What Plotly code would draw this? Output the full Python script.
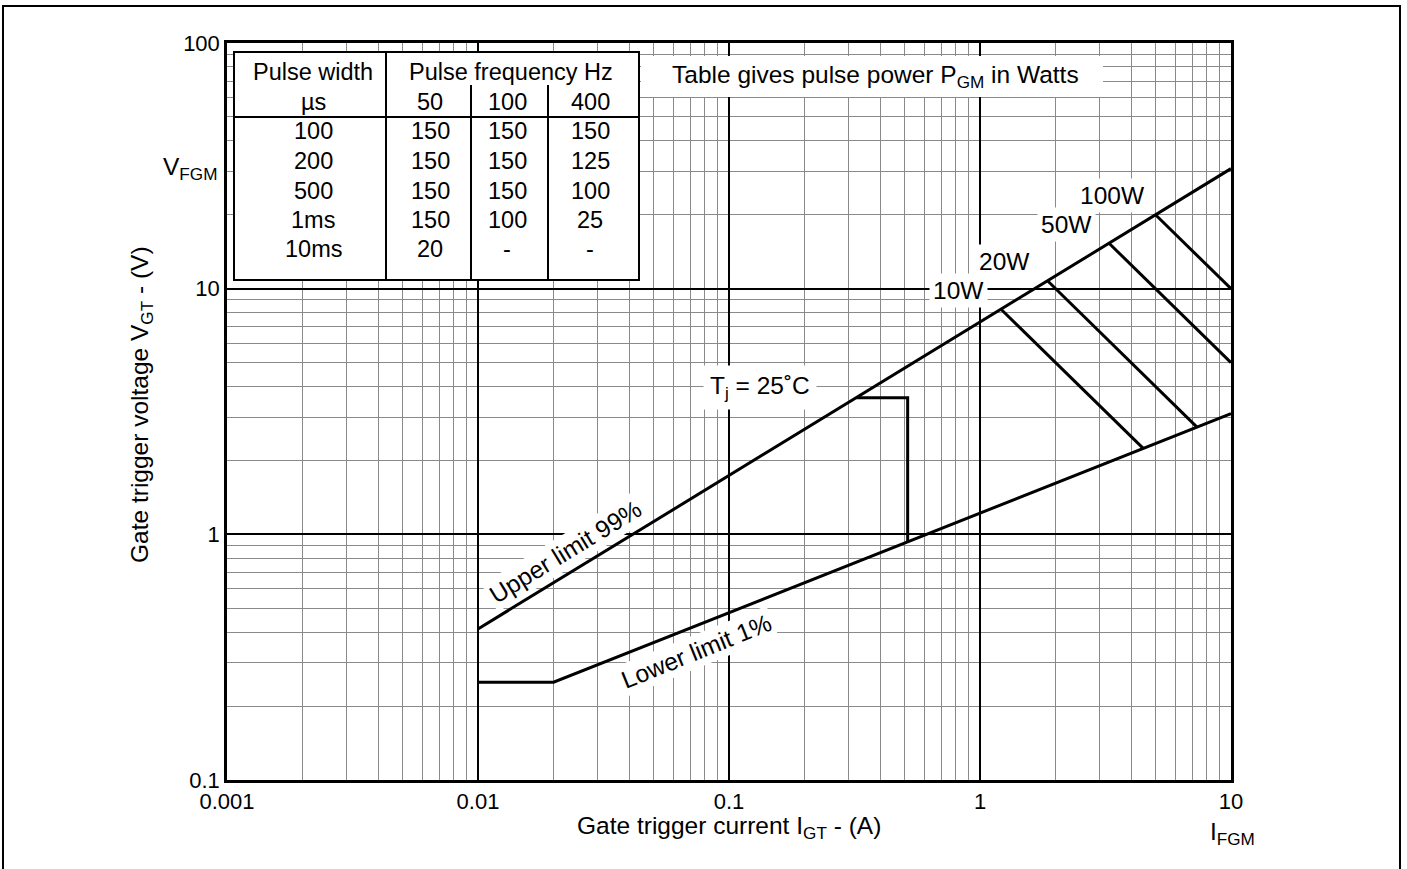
import numpy as np
import plotly.graph_objects as go

# ---------------- data ----------------
upper_I = [0.01, 10.0]          # Upper limit 99 %
upper_V = [0.412, 30.8]
lower_I = [0.01, 0.02, 10.0]    # Lower limit 1 %
lower_V = [0.25, 0.25, 3.1]
power_W = [10, 20, 50, 100]     # pulse power hyperbolas
power_labels = ["10W", "20W", "50W", "100W"]
tj_I = 0.515                    # Tj = 25 C box corner
tj_V = 3.6
I_FGM = 10.0

x_ticks = [0.001, 0.01, 0.1, 1, 10]
x_ticktext = ["0.001", "0.01", "0.1", "1", "10"]
y_ticks = [0.1, 1, 10, 100]
y_ticktext = ["0.1", "1", "10", "100"]

table_head1 = ["Pulse width", "Pulse frequency Hz"]
table_head2 = ["µs", "50", "100", "400"]
pulse_widths = ["100", "200", "500", "1ms", "10ms"]
pgm_50 = ["150", "150", "150", "150", "20"]
pgm_100 = ["150", "150", "150", "100", "-"]
pgm_400 = ["150", "125", "100", "25", "-"]

# ---------------- helpers ----------------
def seg(line_I, line_V, k):
    a_I, b_I = np.log10(line_I[k]), np.log10(line_I[k + 1])
    a_V, b_V = np.log10(line_V[k]), np.log10(line_V[k + 1])
    slope = (b_V - a_V) / (b_I - a_I)
    icpt = a_V - slope * a_I
    return slope, icpt

def v_on(line_I, line_V, I):
    return 10 ** np.interp(np.log10(I), np.log10(line_I), np.log10(line_V))

def i_on(line_I, line_V, V):
    return 10 ** np.interp(np.log10(V), np.log10(line_V), np.log10(line_I))

def power_cross(line_I, line_V, k, P):
    s, c = seg(line_I, line_V, k)
    return 10 ** ((np.log10(P) - c) / (1 + s))

# plot area in pixels
L, R, T, B = 227, 1231, 43, 780
W_, H_ = R - L, B - T
def px(x):
    return (x - L) / W_
def py(y):
    return (B - y) / H_

FONT = "Liberation Sans, Arial, Helvetica, sans-serif"
FS = 24.5
FT = 23.5
TICKFS = 22

def txt(**kw):
    d = dict(showarrow=False, xanchor="center", yanchor="middle",
             font=dict(size=FT, color="black", family=FONT))
    d.update(kw)
    return d

fig = go.Figure()

line_style = dict(color="black", width=3)
fig.add_trace(go.Scatter(x=upper_I, y=upper_V, mode="lines", line=line_style,
                         hoverinfo="skip", showlegend=False))
fig.add_trace(go.Scatter(x=lower_I, y=lower_V, mode="lines", line=line_style,
                         hoverinfo="skip", showlegend=False))

# Tj box
tj_I0 = i_on(upper_I, upper_V, tj_V)
tj_Vlow = v_on(lower_I, lower_V, tj_I)
fig.add_trace(go.Scatter(x=[tj_I0, tj_I, tj_I], y=[tj_V, tj_V, tj_Vlow], mode="lines",
                         line=line_style, hoverinfo="skip", showlegend=False))

annotations = []
for P, lab in zip(power_W, power_labels):
    I_top = power_cross(upper_I, upper_V, 0, P)
    I_bot = min(power_cross(lower_I, lower_V, 1, P), I_FGM)
    fig.add_trace(go.Scatter(x=[I_top, I_bot], y=[P / I_top, P / I_bot], mode="lines",
                             line=line_style, hoverinfo="skip", showlegend=False))
    annotations.append(txt(x=np.log10(I_top), y=np.log10(P / I_top), xref="x", yref="y",
                           text=lab, xshift=-43, yshift=19, bgcolor="white", borderpad=3,
                           font=dict(size=FS, color="black", family=FONT)))

# curve labels
annotations.append(txt(x=np.log10(0.0224), y=np.log10(0.85), xref="x", yref="y",
                       text="Upper limit 99%", textangle=-31.5, bgcolor="white", borderpad=2,
                       font=dict(size=FS, color="black", family=FONT)))
annotations.append(txt(x=np.log10(0.0739), y=np.log10(0.332), xref="x", yref="y",
                       text="Lower limit 1%", textangle=-22, bgcolor="white", borderpad=2,
                       font=dict(size=FS, color="black", family=FONT)))
annotations.append(txt(x=np.log10(0.133), y=np.log10(3.95), xref="x", yref="y",
                       text="T<sub>j</sub> = 25˚C", bgcolor="white", borderpad=6,
                       font=dict(size=FS, color="black", family=FONT)))

# axis titles and FGM labels
annotations.append(txt(x=px(729), y=py(827), xref="paper", yref="paper",
                       text="Gate trigger current I<sub>GT</sub> - (A)",
                       font=dict(size=FS, color="black", family=FONT)))
annotations.append(txt(x=px(141), y=py(405), xref="paper", yref="paper",
                       text="Gate trigger voltage V<sub>GT</sub> - (V)", textangle=-90,
                       font=dict(size=FS, color="black", family=FONT)))
annotations.append(txt(x=px(1232), y=py(833), xref="paper", yref="paper",
                       text="I<sub>FGM</sub>", font=dict(size=FS, color="black", family=FONT)))
annotations.append(txt(x=px(219), y=np.log10(upper_V[-1]), xref="paper", yref="y",
                       xanchor="right", text="V<sub>FGM</sub>",
                       font=dict(size=FS, color="black", family=FONT)))

# note
annotations.append(txt(x=px(875), y=py(76), xref="paper", yref="paper",
                       text="Table gives pulse power P<sub>GM</sub> in Watts",
                       font=dict(size=FS, color="black", family=FONT)))

# table text
col_x = [313, 430, 507, 590]
annotations.append(txt(x=px(col_x[0]), y=py(72), xref="paper", yref="paper", text=table_head1[0]))
annotations.append(txt(x=px(511), y=py(72), xref="paper", yref="paper", text=table_head1[1]))
for cx, t in zip(col_x, table_head2):
    annotations.append(txt(x=px(cx), y=py(102), xref="paper", yref="paper", text=t))
row_y = [131, 161, 191, 220, 249]
for i, ry in enumerate(row_y):
    for cx, col in zip(col_x, [pulse_widths, pgm_50, pgm_100, pgm_400]):
        annotations.append(txt(x=px(cx), y=py(ry), xref="paper", yref="paper", text=col[i]))

shapes = []
# outer frame
shapes.append(dict(type="rect", xref="paper", yref="paper", x0=px(3), x1=px(1400),
                   y0=py(880), y1=py(6), line=dict(color="black", width=2), layer="above"))
# white box behind the note
shapes.append(dict(type="rect", xref="paper", yref="paper", x0=px(641), x1=px(1103),
                   y0=py(97), y1=py(56), fillcolor="white", line=dict(width=0), layer="above"))
# table
shapes.append(dict(type="rect", xref="paper", yref="paper", x0=px(234), x1=px(639),
                   y0=py(280), y1=py(52), fillcolor="white",
                   line=dict(color="black", width=2), layer="above"))
for (x0, y0, x1, y1) in [(386, 52, 386, 280), (471, 85, 471, 280), (548, 85, 548, 280),
                         (234, 117, 639, 117)]:
    shapes.append(dict(type="line", xref="paper", yref="paper", x0=px(x0), x1=px(x1),
                       y0=py(y0), y1=py(y1), line=dict(color="black", width=2), layer="above"))

minor_x = [m * 10.0 ** e for e in range(-3, 1) for m in range(2, 10)]
minor_y = [m * 10.0 ** e for e in range(-1, 2) for m in range(2, 10)]

axis_common = dict(showline=True, mirror=True, linecolor="black", linewidth=2.5,
                   gridcolor="black", gridwidth=2, zeroline=False, ticks="",
                   tickfont=dict(size=TICKFS, color="black", family=FONT))

fig.update_layout(
    width=1407, height=869,
    margin=dict(l=L, r=1407 - R, t=T, b=869 - B),
    paper_bgcolor="white", plot_bgcolor="white",
    xaxis=dict(type="log", range=[-3, 1], tickmode="array", tickvals=x_ticks, ticktext=x_ticktext,
               minor=dict(tickmode="array", tickvals=minor_x, showgrid=True,
                          gridcolor="#8a8a8a", gridwidth=1, ticks=""),
               **axis_common),
    yaxis=dict(type="log", range=[-1, 2], tickmode="array", tickvals=y_ticks, ticktext=y_ticktext,
               minor=dict(tickmode="array", tickvals=minor_y, showgrid=True,
                          gridcolor="#8a8a8a", gridwidth=1, ticks=""),
               **axis_common),
    annotations=annotations,
    shapes=shapes,
    showlegend=False,
    font=dict(family=FONT, color="black"),
)

fig.write_html("out.html", config={"displayModeBar": False},
               post_script="document.body.style.margin='0px';document.body.style.overflow='hidden';")
